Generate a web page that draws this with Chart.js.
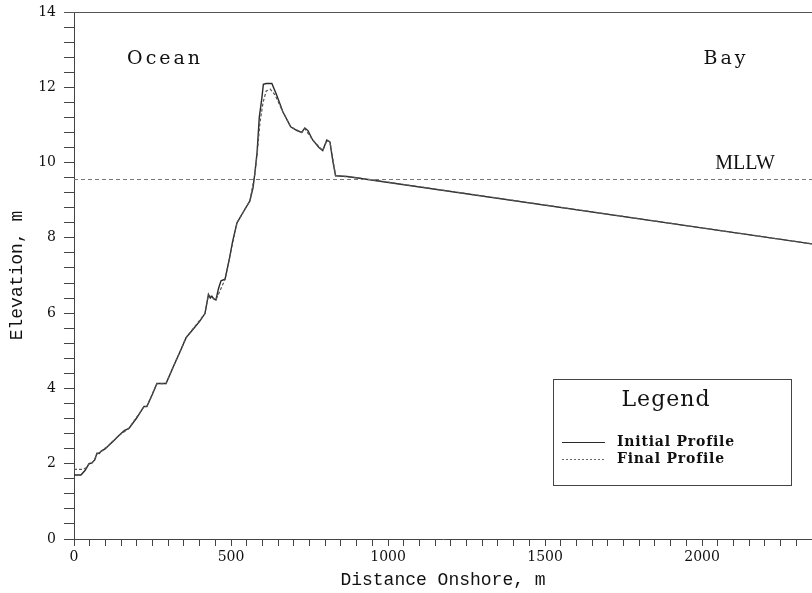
<!DOCTYPE html>
<html>
<head>
<meta charset="utf-8">
<script src="https://cdn.jsdelivr.net/npm/chart.js@4.4.1/dist/chart.umd.min.js"></script>
<style>
  html, body { margin: 0; padding: 0; background: #fff; }
</style>
</head>
<body>
<canvas id="profile" width="812" height="593"></canvas>
<script>
// Beach profile: distance onshore (m) vs elevation (m)
const initialDist = [0, 22, 35, 48, 57, 66, 73, 80, 86, 100, 111, 125, 143, 160, 175, 200, 223, 232, 250, 264,
  293, 320, 338, 357, 376, 400, 417, 428, 434, 439, 445, 452, 460, 468, 481, 495, 505, 519, 540, 560,
  570, 576, 583, 590, 598, 603, 612, 630, 645, 665, 690, 710, 725, 735, 745, 760, 780, 792, 805, 815,
  825, 833, 870, 2350];
const initialElev = [1.70, 1.70, 1.82, 2.00, 2.02, 2.10, 2.28, 2.27, 2.33, 2.40, 2.49, 2.60, 2.75, 2.88, 2.94, 3.22, 3.52, 3.52, 3.85, 4.13,
  4.13, 4.65, 4.98, 5.35, 5.54, 5.78, 5.99, 6.50, 6.40, 6.45, 6.38, 6.35, 6.65, 6.86, 6.90, 7.45, 7.90, 8.40, 8.70, 8.98,
  9.33, 9.72, 10.28, 11.20, 11.70, 12.08, 12.10, 12.10, 11.80, 11.35, 10.95, 10.85, 10.80, 10.92, 10.85, 10.60, 10.40, 10.32, 10.60, 10.55,
  10.00, 9.65, 9.63, 7.84];

const finalDist = [0, 30, 40, 48, 57, 66, 73, 86, 111, 143, 175, 223, 232, 264, 293, 357, 417, 428, 452, 481,
  519, 560, 576, 583, 592, 602, 612, 625, 640, 665, 690, 725, 735, 760, 792, 805, 815, 833, 900, 2350];
const finalElev = [1.85, 1.85, 1.90, 2.00, 2.02, 2.12, 2.26, 2.33, 2.49, 2.75, 2.94, 3.52, 3.52, 4.13, 4.13, 5.35, 5.99, 6.48, 6.35, 6.90,
  8.40, 8.98, 9.70, 10.20, 11.05, 11.60, 11.90, 11.95, 11.80, 11.35, 10.95, 10.80, 10.90, 10.60, 10.32, 10.58, 10.55, 9.65, 9.60, 7.84];

const mllwDist = [0, 2350];
const mllwElev = [9.55, 9.55];

const xMin = 0, xMax = 2350;
const yMin = 0, yMax = 14;

const ink = "#2a2a2a";

function toPoints(xs, ys) {
  return xs.map((x, i) => ({ x: x, y: ys[i] }));
}

// Labels, top frame line and the boxed legend
const annotations = {
  id: "annotations",
  afterDraw(chart) {
    const ctx = chart.ctx;
    const area = chart.chartArea;
    const xs = chart.scales.x;
    const ys = chart.scales.y;
    ctx.save();

    // top frame
    ctx.strokeStyle = "#555";
    ctx.lineWidth = 1;
    ctx.beginPath();
    ctx.moveTo(area.left - 10, area.top + 0.5);
    ctx.lineTo(area.right, area.top + 0.5);
    ctx.stroke();

    ctx.fillStyle = "#111";
    ctx.textAlign = "center";
    ctx.textBaseline = "middle";

    ctx.font = "19px 'DejaVu Serif'";
    ctx.letterSpacing = "3px";
    ctx.fillText("Ocean", xs.getPixelForValue(290), ys.getPixelForValue(12.74));
    ctx.fillText("Bay", xs.getPixelForValue(2076), ys.getPixelForValue(12.74));

    ctx.letterSpacing = "0px";
    ctx.font = "20px 'Liberation Serif'";
    ctx.fillText("MLLW", xs.getPixelForValue(2137), ys.getPixelForValue(9.98));

    // legend box
    const bx = 553, by = 379, bw = 238, bh = 106;
    ctx.strokeStyle = "#444";
    ctx.lineWidth = 1;
    ctx.strokeRect(bx + 0.5, by + 0.5, bw, bh);

    ctx.font = "22px 'DejaVu Serif'";
    ctx.letterSpacing = "1px";
    ctx.fillText("Legend", bx + 113, by + 21);

    ctx.letterSpacing = "0.8px";
    ctx.font = "bold 14px 'DejaVu Serif'";
    ctx.textAlign = "left";
    ctx.fillText("Initial Profile", bx + 64, by + 63);
    ctx.fillText("Final Profile", bx + 64, by + 80);

    ctx.strokeStyle = ink;
    ctx.lineWidth = 1;
    ctx.beginPath();
    ctx.moveTo(bx + 9, by + 63.5);
    ctx.lineTo(bx + 52, by + 63.5);
    ctx.stroke();

    ctx.setLineDash([2, 2]);
    ctx.strokeStyle = "#666";
    ctx.beginPath();
    ctx.moveTo(bx + 9, by + 80.5);
    ctx.lineTo(bx + 52, by + 80.5);
    ctx.stroke();

    ctx.restore();
  }
};

const ctx = document.getElementById("profile").getContext("2d");

new Chart(ctx, {
  type: "scatter",
  data: {
    datasets: [
      {
        label: "MLLW",
        data: toPoints(mllwDist, mllwElev),
        showLine: true,
        borderColor: "#777",
        borderWidth: 1,
        borderDash: [4, 3],
        pointRadius: 0
      },
      {
        label: "Final Profile",
        data: toPoints(finalDist, finalElev),
        showLine: true,
        borderColor: "#555",
        borderWidth: 1.2,
        borderDash: [3, 2],
        pointRadius: 0
      },
      {
        label: "Initial Profile",
        data: toPoints(initialDist, initialElev),
        showLine: true,
        borderColor: ink,
        borderWidth: 1.4,
        pointRadius: 0
      }
    ]
  },
  options: {
    responsive: false,
    animation: false,
    layout: { padding: { top: 12, right: 0, bottom: 0, left: 0 } },
    plugins: {
      legend: { display: false },
      tooltip: { enabled: false }
    },
    scales: {
      x: {
        type: "linear",
        min: xMin,
        max: xMax,
        afterFit(scale) {
          scale.height = 54;
          scale.paddingLeft = 0;
          scale.paddingRight = 0;
        },
        border: { display: true, color: "#444", width: 1 },
        grid: { drawOnChartArea: false, drawTicks: true, tickLength: 7, color: "#444" },
        ticks: {
          stepSize: 50,
          autoSkip: false,
          maxRotation: 0,
          padding: 3,
          color: "#111",
          font: { family: "'DejaVu Serif'", size: 14 },
          callback: (v) => (v % 500 === 0 ? String(v) : "")
        },
        title: {
          display: true,
          text: "Distance Onshore, m",
          color: "#111",
          font: { family: "'Liberation Mono'", size: 18 },
          padding: { top: 0, bottom: 2 }
        }
      },
      y: {
        min: yMin,
        max: yMax,
        afterFit(scale) {
          scale.width = 74;
          scale.paddingTop = 0;
          scale.paddingBottom = 0;
        },
        border: { display: true, color: "#444", width: 1 },
        grid: { drawOnChartArea: false, drawTicks: true, tickLength: 10, color: "#444" },
        ticks: {
          stepSize: 0.4,
          autoSkip: false,
          padding: 8,
          color: "#111",
          font: { family: "'DejaVu Serif'", size: 14 },
          callback: (v) => (Math.abs(v / 2 - Math.round(v / 2)) < 1e-6 ? String(Math.round(v)) : "")
        },
        title: {
          display: true,
          text: "Elevation, m",
          color: "#111",
          font: { family: "'Liberation Mono'", size: 18 },
          padding: { top: 6, bottom: 0 }
        }
      }
    }
  },
  plugins: [annotations]
});
</script>
</body>
</html>
